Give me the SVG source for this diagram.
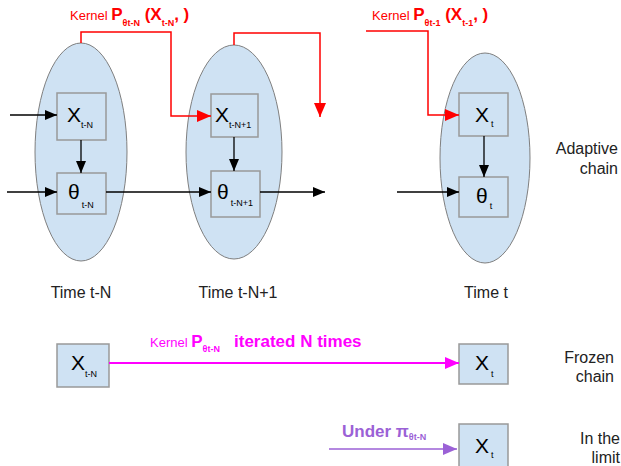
<svg xmlns="http://www.w3.org/2000/svg" width="621" height="466" viewBox="0 0 621 466">
<style>
text{font-family:"Liberation Sans",Arial,sans-serif}
.ell{fill:#cfe2f3;stroke:#7f7f7f;stroke-width:1}
.box{fill:#cfe2f3;stroke:#999;stroke-width:1.5}
.big{font-size:21px;fill:#000}
.sub{font-size:9px}
.lbl{font-size:16px;fill:#222}
.blk{stroke:#000;stroke-width:1.3;fill:none}
.red{stroke:#f00;stroke-width:1.5;fill:none}
</style>
<defs>
<marker id="ab" markerWidth="12" markerHeight="10" refX="12" refY="5" orient="auto" markerUnits="userSpaceOnUse"><path d="M0,0L12,5L0,10z" fill="#000"/></marker>
<marker id="ar" markerWidth="14" markerHeight="12" refX="14" refY="6" orient="auto" markerUnits="userSpaceOnUse"><path d="M0,0L14,6L0,12z" fill="#f00"/></marker>
<marker id="am" markerWidth="14" markerHeight="12" refX="14" refY="6" orient="auto" markerUnits="userSpaceOnUse"><path d="M0,0L14,6L0,12z" fill="#f0f"/></marker>
<marker id="ap" markerWidth="14" markerHeight="12" refX="14" refY="6" orient="auto" markerUnits="userSpaceOnUse"><path d="M0,0L14,6L0,12z" fill="#9b61d6"/></marker>
</defs>

<g id="time-tN">
<ellipse class="ell" cx="81" cy="152" rx="46" ry="109"/>
<text class="lbl" x="81" y="298" text-anchor="middle">Time t-N</text>
</g>
<g id="time-tN1">
<ellipse class="ell" cx="234" cy="152" rx="48" ry="107"/>
<text class="lbl" x="238" y="298" text-anchor="middle">Time t-N+1</text>
</g>
<g id="time-t">
<ellipse class="ell" cx="485" cy="158" rx="45" ry="105"/>
<text class="lbl" x="486" y="298" text-anchor="middle">Time t</text>
</g>

<g id="x-tN">
<rect class="box" x="57" y="93" width="49" height="47"/>
<text class="big" x="67" y="122">X<tspan class="sub" dy="6">t-N</tspan></text>
</g>
<g id="theta-tN">
<rect class="box" x="57" y="173" width="49" height="41"/>
<text class="big" x="68" y="199">θ<tspan class="sub" dx="2" dy="9">t-N</tspan></text>
</g>
<g id="x-tN1">
<rect class="box" x="211" y="94" width="47" height="43"/>
<text class="big" x="215" y="122">X<tspan class="sub" dy="6">t-N+1</tspan></text>
</g>
<g id="theta-tN1">
<rect class="box" x="211" y="171" width="49" height="46"/>
<text class="big" x="217" y="199">θ<tspan class="sub" dx="2" dy="7">t-N+1</tspan></text>
</g>
<g id="x-t">
<rect class="box" x="459" y="93" width="49" height="43"/>
<text class="big" x="475" y="122">X<tspan class="sub" dx="2" dy="5">t</tspan></text>
</g>
<g id="theta-t">
<rect class="box" x="459" y="177" width="49" height="40"/>
<text class="big" x="476" y="203">θ<tspan class="sub" dx="2" dy="6">t</tspan></text>
</g>

<g id="frozen-x-tN">
<rect class="box" x="57" y="344" width="52" height="43"/>
<text class="big" x="71" y="370">X<tspan class="sub" dy="7">t-N</tspan></text>
</g>
<g id="frozen-x-t">
<rect class="box" x="459" y="344" width="49" height="40"/>
<text class="big" x="475" y="370">X<tspan class="sub" dx="2" dy="7">t</tspan></text>
</g>
<g id="limit-x-t">
<rect class="box" x="459" y="424" width="49" height="43"/>
<text class="big" x="475" y="453">X<tspan class="sub" dx="2" dy="5">t</tspan></text>
</g>

<g id="row-labels">
<text class="lbl" x="618" y="154" text-anchor="end">Adaptive</text>
<text class="lbl" x="618" y="174" text-anchor="end">chain</text>
<text class="lbl" x="614" y="363" text-anchor="end">Frozen</text>
<text class="lbl" x="614" y="382" text-anchor="end">chain</text>
<text class="lbl" x="620" y="444" text-anchor="end">In the</text>
<text class="lbl" x="620" y="463" text-anchor="end">limit</text>
</g>

<g id="connectors">
<line class="blk" x1="10" y1="115" x2="57" y2="115" marker-end="url(#ab)"/>
<line class="blk" x1="7" y1="192" x2="57" y2="192" marker-end="url(#ab)"/>
<line class="blk" x1="106" y1="192" x2="211" y2="192" marker-end="url(#ab)"/>
<line class="blk" x1="260" y1="192" x2="325" y2="192" marker-end="url(#ab)"/>
<line class="blk" x1="397" y1="192" x2="459" y2="192" marker-end="url(#ab)"/>
<line class="blk" x1="81" y1="140" x2="81" y2="173" marker-end="url(#ab)"/>
<line class="blk" x1="234" y1="137" x2="234" y2="171" marker-end="url(#ab)"/>
<line class="blk" x1="484" y1="136" x2="484" y2="177" marker-end="url(#ab)"/>
<polyline class="red" points="81,43 81,32 171,32 171,116 211,116" marker-end="url(#ar)"/>
<polyline class="red" points="234,45 234,33 320,33 320,117" marker-end="url(#ar)"/>
<polyline class="red" points="366,31 428,31 428,115 459,115" marker-end="url(#ar)"/>
<line x1="109" y1="363" x2="459" y2="363" stroke="#f0f" stroke-width="2" marker-end="url(#am)"/>
<line x1="329" y1="449" x2="457" y2="449" stroke="#9b61d6" stroke-width="1.5" marker-end="url(#ap)"/>
<text x="70" y="20" fill="#f00" font-size="13">Kernel <tspan font-weight="bold" font-size="17">P</tspan><tspan font-weight="bold" font-size="9" dy="6">θt-N</tspan><tspan font-weight="bold" font-size="17" dy="-6"> (X</tspan><tspan font-weight="bold" font-size="9" dy="6">t-N</tspan><tspan font-weight="bold" font-size="17" dy="-6">, )</tspan></text>
<text x="372" y="20" fill="#f00" font-size="13">Kernel <tspan font-weight="bold" font-size="17">P</tspan><tspan font-weight="bold" font-size="9" dy="6">θt-1</tspan><tspan font-weight="bold" font-size="17" dy="-6"> (X</tspan><tspan font-weight="bold" font-size="9" dy="6">t-1</tspan><tspan font-weight="bold" font-size="17" dy="-6">, )</tspan></text>
<text x="150" y="347" fill="#f0f" font-size="13">Kernel <tspan font-weight="bold" font-size="17">P</tspan><tspan font-weight="bold" font-size="9" dy="5">θt-N</tspan><tspan font-weight="bold" font-size="17" dy="-5" x="234">iterated N times</tspan></text>
<text x="342" y="437" fill="#9b61d6" font-size="17" font-weight="bold">Under π<tspan font-size="9" dy="3">θt-N</tspan></text>
</g>
</svg>
